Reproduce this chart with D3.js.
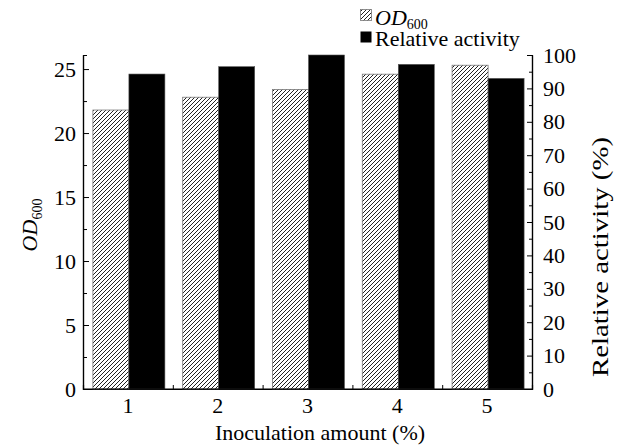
<!DOCTYPE html>
<html>
<head>
<meta charset="utf-8">
<script src="https://cdn.jsdelivr.net/npm/d3@7"></script>
<style>
  body { margin: 0; background: #fff; }
  svg { display: block; font-family: "Liberation Serif", "Times New Roman", serif; }
</style>
</head>
<body>
<svg width="620" height="446"></svg>
<script>
// data
const categories = ["1", "2", "3", "4", "5"];
const od600 = [21.8, 22.8, 23.4, 24.6, 25.3];
const activity = [94.3, 96.5, 100, 97.2, 93.0];
const odTicks = [0, 5, 10, 15, 20, 25];
const actTicks = [0, 10, 20, 30, 40, 50, 60, 70, 80, 90, 100];

const svg = d3.select("svg");
const pLeft = 83, pRight = 532, pTop = 55, pBottom = 389;

// hatch pattern
const defs = svg.append("defs");
defs.append("pattern")
    .attr("id", "hatch")
    .attr("patternUnits", "userSpaceOnUse")
    .attr("width", 4).attr("height", 4)
  .call(p => p.append("rect").attr("width", 4).attr("height", 4).attr("fill", "#fff"))
  .append("path")
    .attr("d", "M-1,1 l2,-2 M0,4 l4,-4 M3,5 l2,-2")
    .attr("stroke", "#222").attr("stroke-width", 1);

const x = d3.scaleBand().domain(categories).range([pLeft, pRight]);
const sub = d3.scaleBand().domain(["od", "act"]).range([0, 72]);
const yL = d3.scaleLinear().domain([0, 26.1]).range([pBottom, pTop]);
const yR = d3.scaleLinear().domain([0, 100]).range([pBottom, pTop]);

const off = c => x(c) + x.bandwidth() / 2 - 35;

// axes
const fs = 22;
svg.append("g").attr("transform", `translate(${pLeft},0)`)
    .call(d3.axisLeft(yL).tickValues(odTicks).tickSizeInner(-6).tickSizeOuter(0).tickPadding(7));
svg.append("g").attr("transform", `translate(${pLeft},0)`)
    .call(d3.axisLeft(yL).tickValues(d3.range(2.5, 26, 5)).tickSize(-4).tickFormat(""));
svg.append("g").attr("transform", `translate(${pRight},0)`)
    .call(d3.axisRight(yR).tickValues(actTicks).tickSizeInner(-5).tickSizeOuter(0).tickPadding(11));
svg.append("g").attr("transform", `translate(${pRight},0)`)
    .call(d3.axisRight(yR).tickValues(d3.range(5, 100, 10)).tickSize(-3).tickFormat(""));
svg.append("g").attr("transform", `translate(0,${pBottom})`)
    .call(d3.axisBottom(x).tickSizeInner(-6).tickSizeOuter(0).tickPadding(8));
svg.append("g").attr("transform", `translate(0,${pBottom})`)
    .call(d3.axisBottom(d3.scaleLinear().domain([0, 5]).range([pLeft, pRight]))
      .tickValues([1, 2, 3, 4]).tickSize(-4).tickFormat(""));

svg.selectAll("g").attr("font-family", null).attr("font-size", fs);
svg.selectAll(".domain").attr("stroke", "#000").attr("stroke-width", 1.2);
svg.selectAll(".tick line").attr("stroke", "#000");
svg.selectAll(".tick text").attr("fill", "#000");

// bars
const g = svg.append("g");
g.selectAll("rect.od").data(od600).join("rect")
    .attr("class", "od")
    .attr("x", (d, i) => off(categories[i]) + sub("od"))
    .attr("width", sub.bandwidth())
    .attr("y", d => yL(d))
    .attr("height", d => yL(0) - yL(d))
    .attr("fill", "url(#hatch)")
    .attr("stroke", "#777").attr("stroke-width", 0.8);
g.selectAll("rect.act").data(activity).join("rect")
    .attr("class", "act")
    .attr("x", (d, i) => off(categories[i]) + sub("act"))
    .attr("width", sub.bandwidth())
    .attr("y", d => yR(d))
    .attr("height", d => yR(0) - yR(d))
    .attr("fill", "#000")
    .attr("stroke", "#555").attr("stroke-width", 0.6);

// redraw bottom line on top of bars
svg.append("line").attr("x1", pLeft).attr("x2", pRight).attr("y1", pBottom).attr("y2", pBottom)
    .attr("stroke", "#000").attr("stroke-width", 1.2);

// axis titles
svg.append("text")
    .attr("x", 320).attr("y", 440)
    .attr("text-anchor", "middle").attr("font-size", fs)
    .text("Inoculation amount (%)");

const lt = svg.append("text")
    .attr("transform", "translate(37,225) rotate(-90)")
    .attr("text-anchor", "middle").attr("font-size", fs);
lt.append("tspan").attr("font-style", "italic").text("OD");
lt.append("tspan").attr("font-size", 14).attr("dy", 5).text("600");

svg.append("text")
    .attr("transform", "translate(608,257) rotate(-90)")
    .attr("text-anchor", "middle").attr("font-size", fs + 1)
    .attr("textLength", 240).attr("lengthAdjust", "spacingAndGlyphs")
    .text("Relative activity (%)");

// legend
const leg = svg.append("g");
leg.append("rect").attr("x", 360.5).attr("y", 9.5).attr("width", 11).attr("height", 11)
    .attr("fill", "url(#hatch)").attr("stroke", "#777").attr("stroke-width", 0.8);
leg.append("rect").attr("x", 360.5).attr("y", 31.5).attr("width", 11).attr("height", 11)
    .attr("fill", "#000");
const l1 = leg.append("text").attr("x", 375).attr("y", 25).attr("font-size", fs);
l1.append("tspan").attr("font-style", "italic").text("OD");
l1.append("tspan").attr("font-size", 14).attr("dy", 4).text("600");
leg.append("text").attr("x", 375).attr("y", 46).attr("font-size", fs).text("Relative activity");
</script>
</body>
</html>
